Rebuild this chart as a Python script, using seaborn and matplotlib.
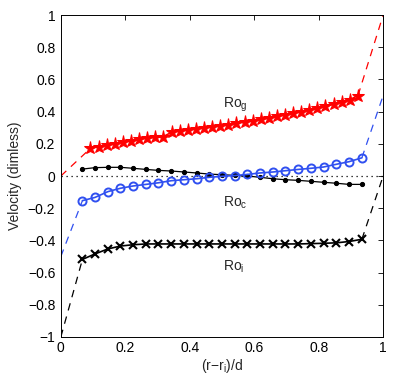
import numpy as np
import pandas as pd
import seaborn as sns
import matplotlib
matplotlib.use('Agg')
import matplotlib.pyplot as plt

# Ro_g profile (red stars)
x_g = [0.092, 0.117, 0.142, 0.167, 0.193, 0.218, 0.243, 0.268, 0.293, 0.318,
       0.344, 0.369, 0.394, 0.419, 0.444, 0.469, 0.494, 0.520, 0.545, 0.570,
       0.595, 0.620, 0.645, 0.671, 0.696, 0.721, 0.746, 0.771, 0.796, 0.821,
       0.847, 0.872, 0.897, 0.922]
ro_g = [0.172, 0.182, 0.190, 0.200, 0.210, 0.220, 0.228, 0.236, 0.240, 0.245,
        0.272, 0.280, 0.286, 0.293, 0.300, 0.306, 0.313, 0.320, 0.327, 0.335,
        0.343, 0.352, 0.360, 0.370, 0.380, 0.390, 0.400, 0.410, 0.420, 0.433,
        0.446, 0.460, 0.475, 0.500]

# Ro_c, Ro_i and the black dotted-marker profile share one radial grid
x_c = [0.067, 0.106, 0.146, 0.185, 0.224, 0.264, 0.303, 0.343, 0.382, 0.421,
       0.461, 0.500, 0.540, 0.579, 0.618, 0.658, 0.697, 0.737, 0.776, 0.815,
       0.855, 0.894, 0.934]
ro_c = [-0.153, -0.133, -0.097, -0.076, -0.062, -0.052, -0.042, -0.029, -0.023, -0.017,
        -0.008, -0.002, 0.003, 0.010, 0.019, 0.025, 0.033, 0.041, 0.048, 0.056,
        0.073, 0.089, 0.113]
ro_i = [-0.518, -0.484, -0.453, -0.435, -0.427, -0.422, -0.422, -0.422, -0.422, -0.422,
        -0.422, -0.422, -0.422, -0.422, -0.422, -0.422, -0.422, -0.422, -0.420, -0.418,
        -0.415, -0.407, -0.393]
v_dot = [0.043, 0.052, 0.054, 0.054, 0.048, 0.041, 0.035, 0.031, 0.025, 0.019,
         0.012, 0.008, 0.004, 0.000, -0.008, -0.017, -0.023, -0.027, -0.033, -0.039,
         -0.045, -0.052, -0.052]

# wall values (inner wall at 0, outer wall at 1)
wall_g = [0.0, 1.0]
wall_c = [-0.5, 0.5]
wall_i = [-1.0, 0.0]

sns.set_style('white')
plt.rcParams['font.family'] = ['Liberation Sans', 'DejaVu Sans']
plt.rcParams['mathtext.default'] = 'regular'
plt.rcParams['axes.unicode_minus'] = True

fig = plt.figure(figsize=(3.95, 3.86), dpi=100)
ax = fig.add_axes([0.154, 0.127, 0.816, 0.834])

blue = '#3050f0'

# dashed extrapolation to the walls
for xs, ys, wall, col in [(x_g, ro_g, wall_g, 'red'), (x_c, ro_c, wall_c, blue),
                          (x_c, ro_i, wall_i, 'black')]:
    sns.lineplot(x=[0, xs[0]], y=[wall[0], ys[0]], ax=ax, color=col,
                 linestyle=(0, (6, 5)), linewidth=0.9, sort=False)
    sns.lineplot(x=[xs[-1], 1], y=[ys[-1], wall[1]], ax=ax, color=col,
                 linestyle=(0, (6, 5)), linewidth=0.9, sort=False)

# zero line
ax.axhline(0, color='black', linestyle=(0, (1, 3)), linewidth=0.9)

sns.lineplot(x=x_c, y=v_dot, ax=ax, color='black', linewidth=0.9, marker='o',
             markersize=3, markeredgecolor='black', sort=False)
sns.lineplot(x=x_c, y=ro_i, ax=ax, color='black', linewidth=1.2, marker='x',
             markersize=5.5, markeredgewidth=1.5, markeredgecolor='black', sort=False)
sns.lineplot(x=x_c, y=ro_c, ax=ax, color=blue, linewidth=1.2, marker='o',
             markersize=5.8, markerfacecolor='none', markeredgecolor=blue,
             markeredgewidth=1.4, sort=False)
sns.lineplot(x=x_g, y=ro_g, ax=ax, color='red', linewidth=1.2, marker='*',
             markersize=9.5, markeredgecolor='red', sort=False)

ax.text(0.502, 0.441, 'Ro$_{g}$', fontsize=10, ha='left', va='center')
ax.text(0.502, -0.166, 'Ro$_{c}$', fontsize=10, ha='left', va='center')
ax.text(0.502, -0.567, 'Ro$_{i}$', fontsize=10, ha='left', va='center')

ax.set_xlim(0, 1)
ax.set_ylim(-1, 1)
ax.set_xticks([0, 0.2, 0.4, 0.6, 0.8, 1])
ax.set_xticklabels(['0', '0.2', '0.4', '0.6', '0.8', '1'])
ax.set_yticks([-1, -0.8, -0.6, -0.4, -0.2, 0, 0.2, 0.4, 0.6, 0.8, 1])
ax.set_yticklabels(['\u22121', '\u22120.8', '\u22120.6', '\u22120.4', '\u22120.2', '0',
                    '0.2', '0.4', '0.6', '0.8', '1'])
ax.tick_params(direction='in', length=3.5, width=0.6, top=True, right=True,
               labelsize=10, colors='black')
ax.tick_params(axis='x', pad=3)
ax.tick_params(axis='y', pad=4)
for s in ax.spines.values():
    s.set_color('black')
    s.set_linewidth(0.7)

ax.set_xlabel('(r\u2212r$_{i}$)/d', fontsize=10, labelpad=1)
ax.set_ylabel('Velocity (dimless)', fontsize=10, labelpad=4)

fig.savefig('out.png', dpi=100)
